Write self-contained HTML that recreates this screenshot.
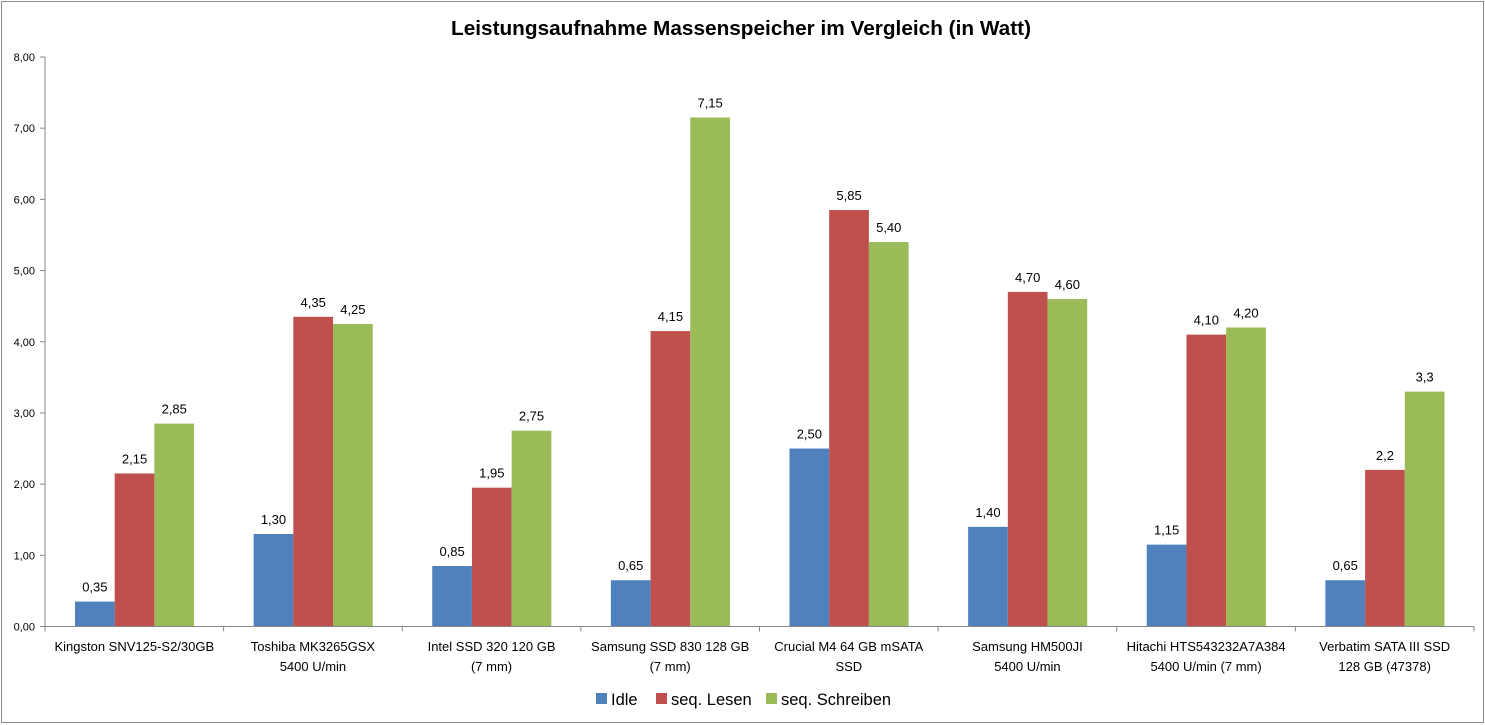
<!DOCTYPE html>
<html><head><meta charset="utf-8"><style>
body{margin:0;background:#fff;}
svg{display:block;font-family:"Liberation Sans",sans-serif;}
</style></head><body>
<svg id="c" width="1485" height="725" xmlns="http://www.w3.org/2000/svg">
<rect x="1.5" y="1.5" width="1482" height="721" fill="#fff" stroke="#8a8a8a"/>
<text x="741" y="35" text-anchor="middle" font-size="20.5" font-weight="bold" fill="#000" textLength="580" lengthAdjust="spacingAndGlyphs">Leistungsaufnahme Massenspeicher im Vergleich (in Watt)</text>
<g id="plot"></g>
</svg>
<script>
const categories=[["Kingston SNV125-S2/30GB"],["Toshiba MK3265GSX","5400 U/min"],["Intel SSD 320 120 GB","(7 mm)"],["Samsung SSD 830 128 GB","(7 mm)"],["Crucial M4 64 GB mSATA","SSD"],["Samsung HM500JI","5400 U/min"],["Hitachi HTS543232A7A384","5400 U/min (7 mm)"],["Verbatim SATA III SSD","128 GB (47378)"]];
const idle=[0.35,1.30,0.85,0.65,2.50,1.40,1.15,0.65];
const lesen=[2.15,4.35,1.95,4.15,5.85,4.70,4.10,2.2];
const schreiben=[2.85,4.25,2.75,7.15,5.40,4.60,4.20,3.3];
const idleLabels=["0,35","1,30","0,85","0,65","2,50","1,40","1,15","0,65"];
const lesenLabels=["2,15","4,35","1,95","4,15","5,85","4,70","4,10","2,2"];
const schreibenLabels=["2,85","4,25","2,75","7,15","5,40","4,60","4,20","3,3"];
const yTicks=[0,1,2,3,4,5,6,7,8];
const yTickLabels=["0,00","1,00","2,00","3,00","4,00","5,00","6,00","7,00","8,00"];
const seriesNames=["Idle","seq. Lesen","seq. Schreiben"];
const colors=["#4f81bd","#c0504d","#9bbb59"];

const NS="http://www.w3.org/2000/svg";
const g=document.getElementById("plot");
const X0=45,X1=1474,Y0=626.5,Y1=57,YMAX=8;
const cw=(X1-X0)/categories.length, bw=39.7, gap=30;
const y=v=>Y0-(v/YMAX)*(Y0-Y1);
const xc=(i,s)=>X0+i*cw+gap+s*bw;
function el(t,a,txt){const e=document.createElementNS(NS,t);for(const k in a)e.setAttribute(k,a[k]);if(txt!==undefined)e.textContent=txt;g.appendChild(e);return e;}

let ax=el("line",{x1:X0,y1:Y1,x2:X0,y2:Y0,stroke:"#868686"});


yTicks.forEach((t,i)=>{
  let tk=el("line",{x1:X0-5,x2:X0,y1:y(t),y2:y(t),stroke:"#868686"});
  
  
  let lb=el("text",{x:X0-10,y:y(t)+4,"text-anchor":"end","font-size":"11",fill:"#000"},yTickLabels[i]);
  
  
});
const data=[idle,lesen,schreiben], labels=[idleLabels,lesenLabels,schreibenLabels];
categories.forEach((c,i)=>{
  data.forEach((d,s)=>{
    let r=el("rect",{x:xc(i,s),y:y(d[i]),width:bw,height:Y0-y(d[i]),fill:colors[s]});
    
    
    let t=el("text",{x:xc(i,s)+bw/2,y:y(d[i])-10,"text-anchor":"middle","font-size":"13",fill:"#000"},labels[s][i]);
    
    
  });
  c.forEach((line,k)=>{
    let t=el("text",{x:X0+(i+0.5)*cw,y:651+k*20,"text-anchor":"middle","font-size":"13",fill:"#000"},line);
    
    
  });
});
let xa=el("line",{x1:X0,y1:Y0,x2:X1,y2:Y0,stroke:"#868686"});


for(let i=0;i<=categories.length;i++){
  let tk=el("line",{x1:X0+i*cw,x2:X0+i*cw,y1:Y0,y2:Y0+5,stroke:"#868686"});
  
  
}
const lx=[596,656,766];
seriesNames.forEach((n,s)=>{
  let r=el("rect",{x:lx[s],y:693,width:11,height:11,fill:colors[s]});
  
  
  let t=el("text",{x:lx[s]+15,y:705,"font-size":"16.5",fill:"#000"},n);
  
  
});
</script>
</body></html>
